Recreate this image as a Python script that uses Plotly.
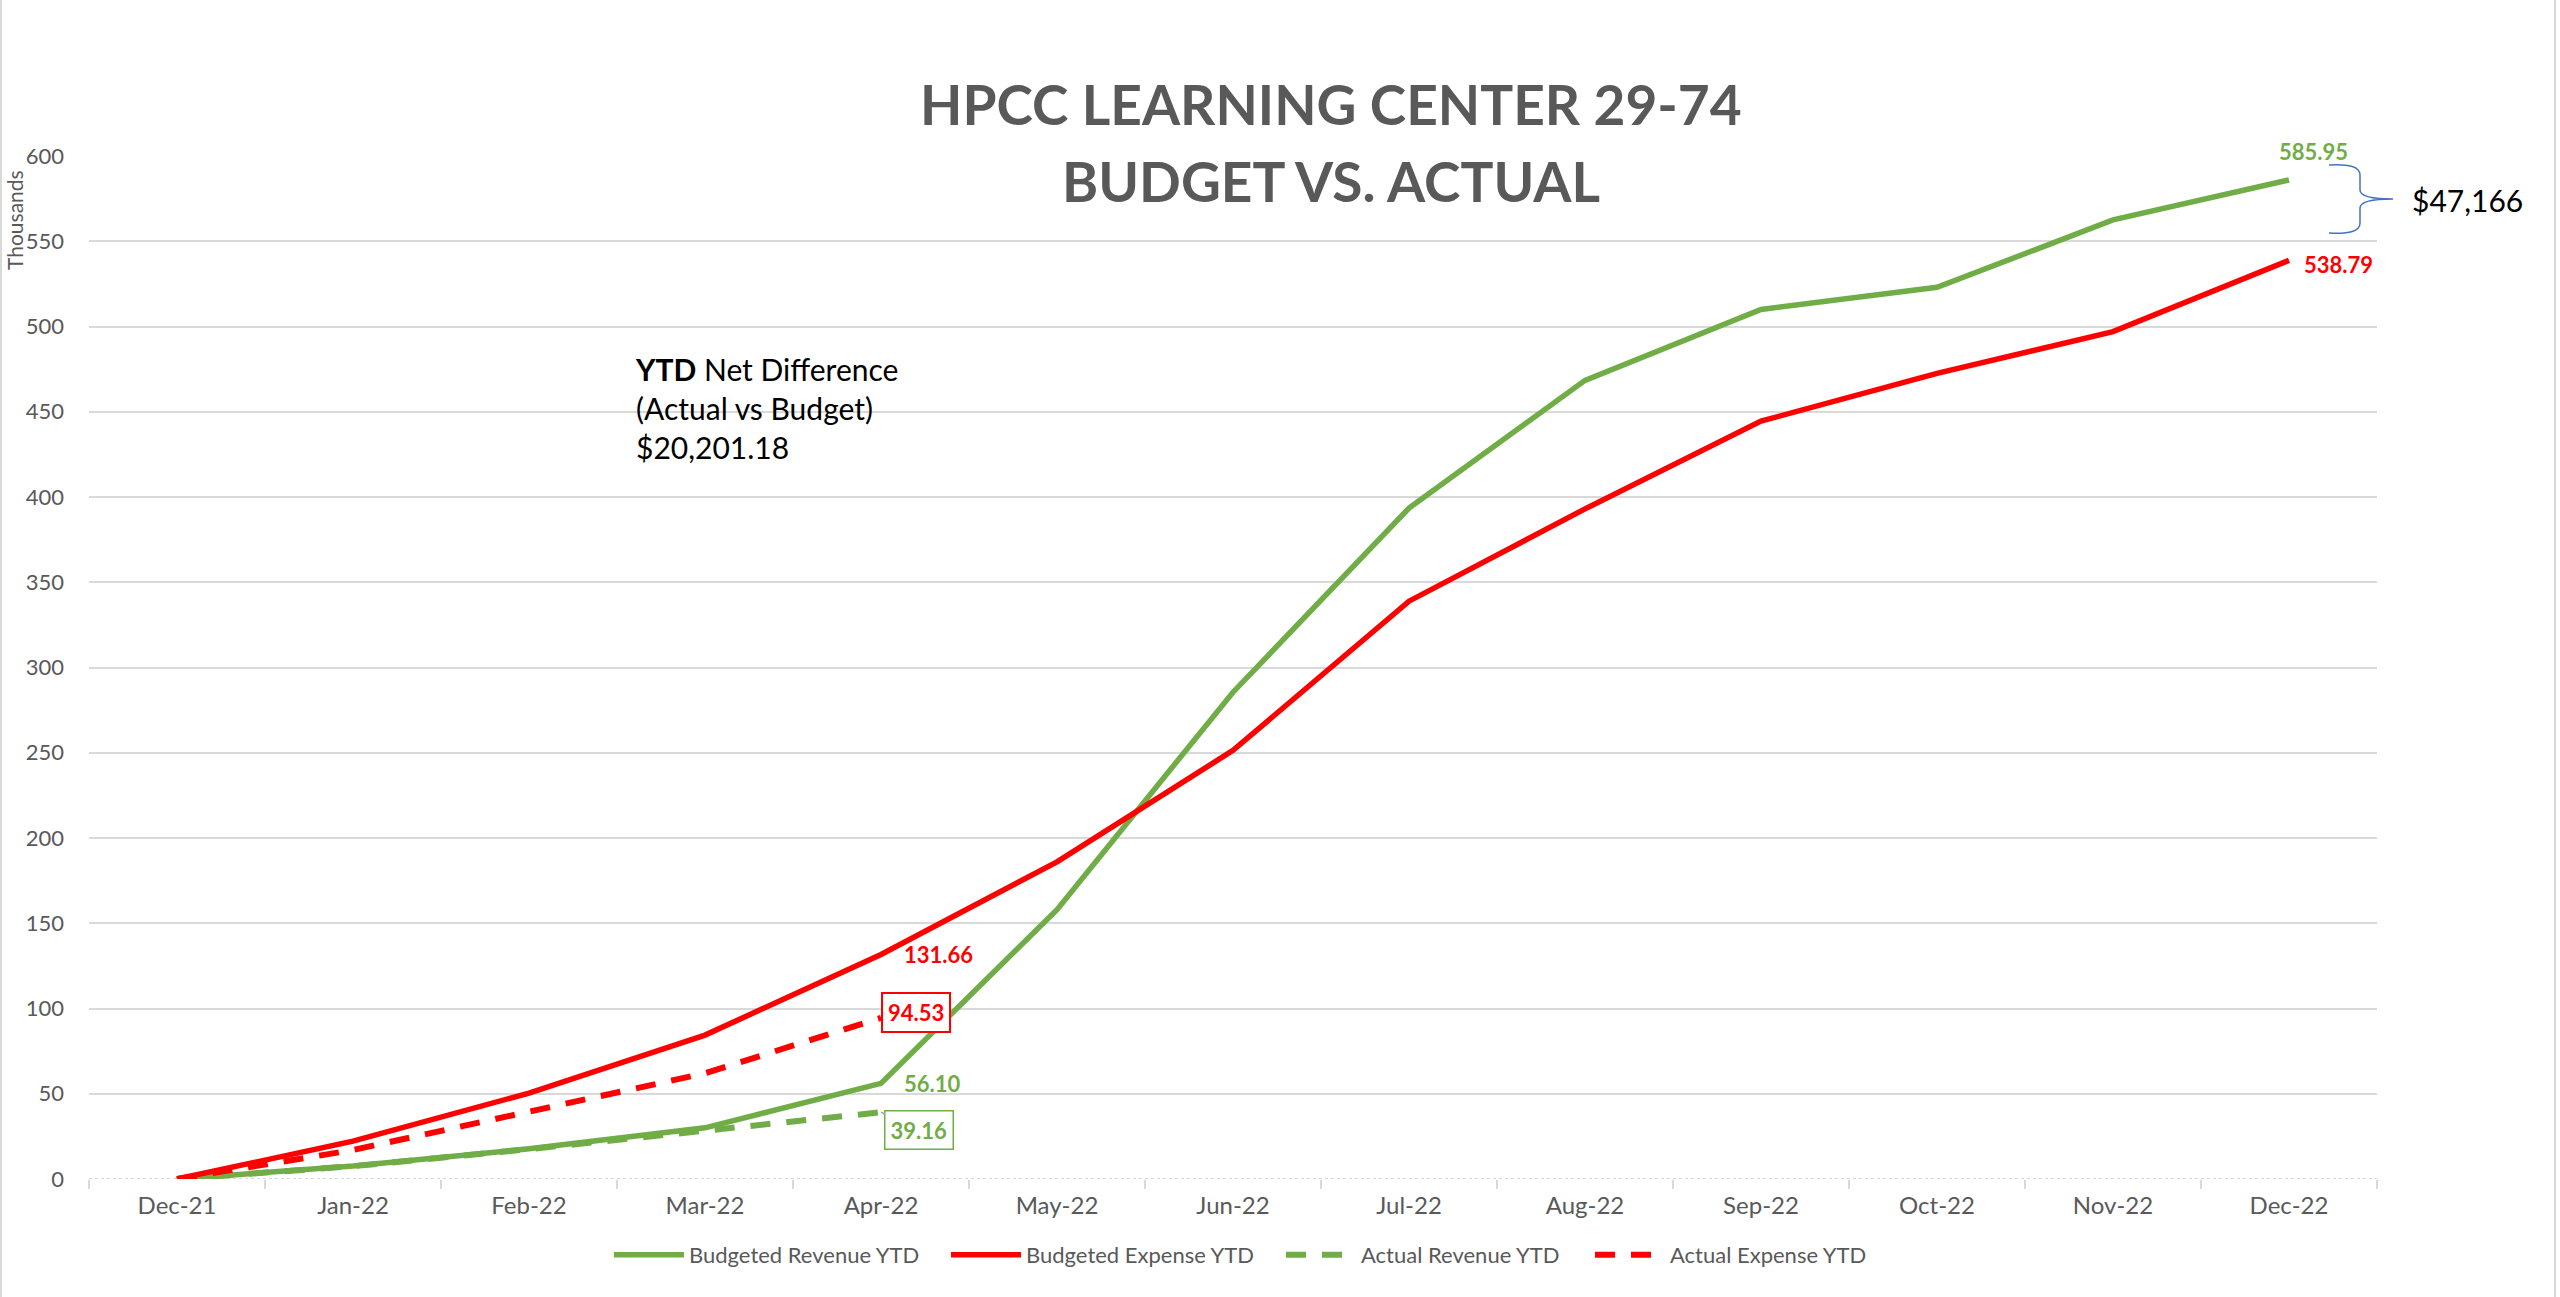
import plotly.graph_objects as go

# data (thousands of $)
meses = ["Dec-21", "Jan-22", "Feb-22", "Mar-22", "Apr-22", "May-22", "Jun-22",
         "Jul-22", "Aug-22", "Sep-22", "Oct-22", "Nov-22", "Dec-22"]
receita_orcada = [0, 7.6, 17.7, 30.0, 56.10, 158.0, 285.5, 393.5, 468.4, 510.0, 523.0, 562.5, 585.95]
despesa_orcada = [0, 22.2, 50.4, 84.4, 131.66, 186.0, 251.4, 338.9, 393.0, 444.5, 472.5, 497.0, 538.79]
receita_real = [0, 7.5, 17.5, 28.0, 39.16]
despesa_real = [0, 17.0, 39.5, 62.0, 94.53]
y_ticks = [0, 50, 100, 150, 200, 250, 300, 350, 400, 450, 500, 550, 600]

verde = "#70AD47"
vermelho = "#FF0000"
cinza_texto = "#595959"
cinza_grade = "#D9D9D9"
fonte = "Lato"

W, H = 2560, 1297
L, R, T, B = 89, 183, 156, 118
PW, PH = W - L - R, H - T - B


def px(x):
    return (x - L) / PW


def py(y):
    return (H - B - y) / PH


fig = go.Figure()
fig.add_trace(go.Scatter(x=meses, y=receita_orcada, name="Budgeted Revenue YTD", mode="lines",
                         line=dict(color=verde, width=5.5), legendwidth=252))
fig.add_trace(go.Scatter(x=meses, y=despesa_orcada, name="Budgeted Expense YTD", mode="lines",
                         line=dict(color=vermelho, width=5.5), legendwidth=250))
fig.add_trace(go.Scatter(x=meses[:len(receita_real)], y=receita_real, name="Actual Revenue YTD", mode="lines",
                         line=dict(color=verde, width=6, dash="20px,16px"), legendwidth=224))
fig.add_trace(go.Scatter(x=meses[:len(despesa_real)], y=despesa_real, name="Actual Expense YTD", mode="lines",
                         line=dict(color=vermelho, width=6, dash="20px,16px"), legendwidth=200))

anotacoes = []
# titulo
for texto, ypix in [("<b>HPCC LEARNING CENTER 29-74</b>", 104), ("<b>BUDGET VS. ACTUAL</b>", 181)]:
    anotacoes.append(dict(text=texto, xref="paper", yref="paper", x=px(1331), y=py(ypix),
                          xanchor="center", yanchor="middle", showarrow=False,
                          font=dict(size=55, color=cinza_texto, family=fonte)))
# eixo y
anotacoes.append(dict(text="Thousands", xref="paper", yref="paper", x=px(14), y=py(220), textangle=-90,
                      xanchor="center", yanchor="middle", showarrow=False,
                      font=dict(size=21, color=cinza_texto, family=fonte)))
# rotulos de dados
n = len(meses) - 1
anotacoes.append(dict(x=meses[n], y=receita_orcada[n], text=f"<b>{receita_orcada[n]:.2f}</b>", showarrow=False,
                      xanchor="center", yanchor="middle", xshift=24, yshift=28,
                      font=dict(size=22, color=verde, family=fonte)))
anotacoes.append(dict(x=meses[n], y=despesa_orcada[n], text=f"<b>{despesa_orcada[n]:.2f}</b>", showarrow=False,
                      xanchor="left", yanchor="middle", xshift=13, yshift=-4,
                      font=dict(size=22, color=vermelho, family=fonte)))
k = 4
anotacoes.append(dict(x=meses[k], y=despesa_orcada[k], text=f"<b>{despesa_orcada[k]:.2f}</b>", showarrow=False,
                      xanchor="left", yanchor="middle", xshift=21, yshift=0,
                      font=dict(size=22, color=vermelho, family=fonte)))
anotacoes.append(dict(x=meses[k], y=receita_orcada[k], text=f"<b>{receita_orcada[k]:.2f}</b>", showarrow=False,
                      xanchor="left", yanchor="middle", xshift=21, yshift=0,
                      font=dict(size=22, color=verde, family=fonte)))
anotacoes.append(dict(x=meses[k], y=despesa_real[k], text=f"<b>{despesa_real[k]:.2f}</b>", showarrow=False,
                      xanchor="left", yanchor="middle", xshift=0, yshift=5, bordercolor=vermelho, borderwidth=2,
                      borderpad=5, bgcolor="white", font=dict(size=22, color=vermelho, family=fonte)))
anotacoes.append(dict(x=meses[k], y=receita_real[k], text=f"<b>{receita_real[k]:.2f}</b>", showarrow=True,
                      arrowhead=0, arrowwidth=1.5, arrowcolor="#A6A6A6", ax=38, ay=18,
                      xanchor="center", yanchor="middle",
                      bordercolor=verde, borderwidth=1.5, borderpad=5, bgcolor="white",
                      font=dict(size=22, color=verde, family=fonte)))
# diferenca final
anotacoes.append(dict(text="$47,166", xref="paper", yref="paper", x=px(2410), y=py(200), xanchor="left",
                      yanchor="middle", showarrow=False, font=dict(size=30, color="black", family=fonte)))
# caixa de texto
anotacoes.append(dict(text="<b>YTD</b> Net Difference<br>(Actual vs Budget)<br>$20,201.18", xref="paper",
                      yref="paper", x=px(633), y=py(349), xanchor="left", yanchor="top", align="left",
                      showarrow=False, font=dict(size=30, color="black", family=fonte)))

# chave azul
pts = [(2329, 165), (2360, 163), (2360, 175), (2360, 190), (2360, 199), (2393, 199), (2360, 199), (2360, 208),
       (2360, 223), (2360, 235), (2329, 233)]
p = [(px(a), py(b)) for a, b in pts]
caminho = (f"M {p[0][0]},{p[0][1]} Q {p[1][0]},{p[1][1]} {p[2][0]},{p[2][1]} L {p[3][0]},{p[3][1]} "
           f"Q {p[4][0]},{p[4][1]} {p[5][0]},{p[5][1]} Q {p[6][0]},{p[6][1]} {p[7][0]},{p[7][1]} "
           f"L {p[8][0]},{p[8][1]} Q {p[9][0]},{p[9][1]} {p[10][0]},{p[10][1]}")

formas = [
    dict(type="path", path=caminho, xref="paper", yref="paper", line=dict(color="#4472C4", width=1.5)),
    # linha base pontilhada
    dict(type="line", xref="paper", yref="y", x0=0, x1=1, y0=0, y1=0, layer="below",
         line=dict(color="white", width=3)),
    dict(type="line", xref="paper", yref="y", x0=0, x1=1, y0=0, y1=0, layer="below",
         line=dict(color=cinza_grade, width=2, dash="dot")),
    # bordas do grafico
    dict(type="line", xref="paper", yref="paper", x0=px(1), x1=px(1), y0=py(0), y1=py(H), line=dict(color=cinza_grade, width=2)),
    dict(type="line", xref="paper", yref="paper", x0=px(2555), x1=px(2555), y0=py(0), y1=py(H), line=dict(color=cinza_grade, width=2)),
]

fig.update_layout(
    width=W, height=H,
    margin=dict(l=L, r=R, t=T, b=B, autoexpand=False),
    plot_bgcolor="white", paper_bgcolor="white",
    font=dict(family=fonte, color=cinza_texto),
    showlegend=True,
    legend=dict(orientation="h", x=0.5 + 9 / PW, xanchor="center", y=py(1255), yanchor="middle",
                font=dict(size=22, color=cinza_texto, family=fonte), itemwidth=70, traceorder="normal"),
    annotations=anotacoes,
    shapes=formas,
)
fig.update_xaxes(type="category", range=[-0.5, len(meses) - 0.5], showgrid=False, zeroline=False,
                 showline=False, ticks="outside", tickson="boundaries", ticklen=9, tickcolor=cinza_grade,
                 tickwidth=1.5, tickfont=dict(size=24, color=cinza_texto, family=fonte), ticklabelstandoff=10)
fig.update_yaxes(range=[0, 600], tickvals=y_ticks, showgrid=True, gridcolor=cinza_grade, gridwidth=1.5,
                 zeroline=False, showline=False, tickfont=dict(size=22, color=cinza_texto, family=fonte),
                 ticklabelstandoff=24)

# tira a margem padrao do body para o grafico ficar alinhado na janela
fig.write_html("out.html", config={"displayModeBar": False},
               post_script="document.body.style.margin='0';")
